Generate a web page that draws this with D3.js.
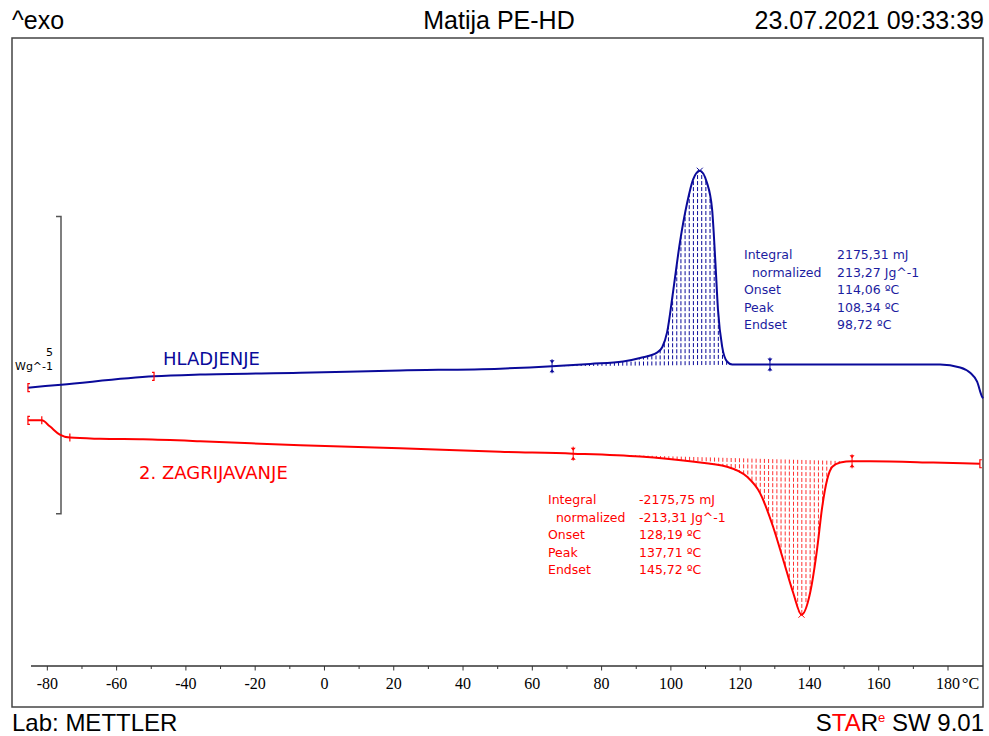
<!DOCTYPE html>
<html>
<head>
<meta charset="utf-8">
<script src="https://cdn.jsdelivr.net/npm/d3@7"></script>
<style>
  body { margin: 0; background: #fff; }
  svg { display: block; }
  .pre { white-space: pre; }
</style>
</head>
<body>
<div id="dsc_canvas"></div>
<script>
const width = 989;
const height = 736;

// cooling run (HLADJENJE): temperature (°C) and heat flow (W/g)
const coolTemp = [-85.6, -76.0, -49.2, -35.9, -7.0, 21.8, 50.7, 65.7, 76.7, 86.2, 91.1, 96.0, 97.5, 98.9,
  100.6, 102.6, 104.7, 106.4, 108.34, 110.4, 111.9, 112.8, 113.6, 114.8, 116.2, 117.7, 128.6, 160.4,
  177.7, 183.5, 186.4, 188.4, 189.8, 190.1];
const coolFlow = [0.20, 0.25, 0.39, 0.42, 0.45, 0.49, 0.52, 0.56, 0.60, 0.64, 0.70, 0.79, 0.88, 1.13,
  1.80, 2.64, 3.31, 3.70, 3.85, 3.65, 3.20, 2.36, 1.51, 0.89, 0.64, 0.59, 0.59, 0.59,
  0.59, 0.54, 0.45, 0.30, 0.05, 0.02];

// second heating run (2. ZAGRIJAVANJE)
const heatTemp = [-85.6, -81.6, -79.3, -76.4, -73.5, -64.8, -52.4, -35.9, -7.0, 21.8, 50.7, 71.8, 91.1,
  105.5, 116.2, 122.0, 125.7, 129.5, 132.4, 135.3, 137.71, 140.2, 142.2, 143.7, 145.1, 146.6, 148.9,
  152.3, 157.5, 175.7, 189.2];
const heatFlow = [-0.35, -0.35, -0.45, -0.59, -0.64, -0.66, -0.67, -0.70, -0.77, -0.82, -0.88, -0.91, -0.96,
  -1.04, -1.13, -1.30, -1.57, -2.14, -2.69, -3.25, -3.62, -3.25, -2.52, -1.80, -1.35, -1.13, -1.06,
  -1.04, -1.04, -1.06, -1.08];

const xTickValues = [-80, -60, -40, -20, 0, 20, 40, 60, 80, 100, 120, 140, 160, 180];
const coolLimits = [65.7, 128.6];
const heatLimits = [71.8, 152.3];

const coolNames = ['Integral', '  normalized', 'Onset', 'Peak', 'Endset'];
const coolValues = ['2175,31 mJ', '213,27 Jg^-1', '114,06 ºC', '108,34 ºC', '98,72 ºC'];
const heatNames = ['Integral', '  normalized', 'Onset', 'Peak', 'Endset'];
const heatValues = ['-2175,75 mJ', '-213,31 Jg^-1', '128,19 ºC', '137,71 ºC', '145,72 ºC'];

const blue = '#0a0a9a';
const red = '#ff0000';

const svg = d3.select('#dsc_canvas').append('svg')
  .attr('width', width).attr('height', height);

const x = d3.scaleLinear().domain([-90.2, 190.1]).range([12, 983]);
const y = d3.scaleLinear().domain([-4.5, 6.1]).range([667, 37]);

// frame
svg.append('rect').attr('x', 12).attr('y', 38).attr('width', 971).attr('height', 669)
  .attr('fill', 'none').attr('stroke', '#444').attr('stroke-width', 1.5);

// header / footer
const hdr = svg.append('g').attr('font-family', 'Liberation Sans, Arial, sans-serif')
  .attr('font-size', 25).attr('fill', '#000');
hdr.append('text').attr('x', 12).attr('y', 29).text('^exo');
hdr.append('text').attr('x', 499).attr('y', 29).attr('text-anchor', 'middle').text('Matija PE-HD');
hdr.append('text').attr('x', 984).attr('y', 29).attr('text-anchor', 'end').text('23.07.2021 09:33:39');
hdr.append('text').attr('x', 12).attr('y', 731).attr('font-size', 24).text('Lab: METTLER');
const star = hdr.append('text').attr('x', 984).attr('y', 731).attr('text-anchor', 'end').attr('font-size', 24);
star.append('tspan').text('S');
star.append('tspan').attr('fill', red).text('TA');
star.append('tspan').text('R');
star.append('tspan').attr('fill', red).attr('font-size', 13).attr('dy', -9).text('e');
star.append('tspan').attr('dy', 9).text(' SW 9.01');

// x axis
const axisY = 666;
svg.append('line').attr('x1', 31).attr('x2', 983).attr('y1', axisY).attr('y2', axisY)
  .attr('stroke', '#333').attr('stroke-width', 1.5);
const minor = d3.range(-80, 190, 10);
svg.append('g').selectAll('line').data(minor).join('line')
  .attr('x1', d => x(d)).attr('x2', d => x(d))
  .attr('y1', axisY).attr('y2', d => axisY + (d % 20 === 0 ? 4.5 : 3))
  .attr('stroke', '#333');
svg.append('g').attr('font-family', 'Liberation Serif, Times New Roman, serif').attr('font-size', 16)
  .attr('text-anchor', 'middle')
  .selectAll('text').data(xTickValues).join('text')
  .attr('x', d => x(d)).attr('y', 689).text(d => d);
svg.append('text').attr('font-family', 'Liberation Serif, Times New Roman, serif').attr('font-size', 16)
  .attr('x', 962).attr('y', 689).text('°C');

// scale bar (5 W/g)
const barX = 61;
svg.append('path')
  .attr('d', `M${barX - 5},${y(3.08)}H${barX}V${y(3.08) + 5 * (y(0) - y(1))}H${barX - 5}`)
  .attr('fill', 'none').attr('stroke', '#555').attr('stroke-width', 1.5);
svg.append('text').attr('x', 46).attr('y', 356).attr('font-family', 'DejaVu Sans, sans-serif')
  .attr('font-size', 11).text('5');
svg.append('text').attr('x', 15).attr('y', 370).attr('font-family', 'DejaVu Sans, sans-serif')
  .attr('font-size', 11).text('Wg^-1');

const line = d3.line().x(d => x(d[0])).y(d => y(d[1])).curve(d3.curveMonotoneX);
const coolData = d3.zip(coolTemp, coolFlow);
const heatData = d3.zip(heatTemp, heatFlow);

function flowAt(temps, flows, t) {
  const i = d3.bisectLeft(temps, t);
  if (i <= 0) return flows[0];
  if (i >= temps.length) return flows[flows.length - 1];
  const k = (t - temps[i - 1]) / (temps[i] - temps[i - 1]);
  return flows[i - 1] + k * (flows[i] - flows[i - 1]);
}

function hatch(temps, flows, limits, color, sign) {
  const b0 = flowAt(temps, flows, limits[0]);
  const b1 = flowAt(temps, flows, limits[1]);
  const base = t => b0 + (t - limits[0]) / (limits[1] - limits[0]) * (b1 - b0);
  const steps = d3.range(limits[0] + 1.2, limits[1], 1.2)
    .filter(t => sign * (flowAt(temps, flows, t) - base(t)) > 0.01);
  svg.append('g').selectAll('line').data(steps).join('line')
    .attr('x1', t => x(t)).attr('x2', t => x(t))
    .attr('y1', t => y(base(t)))
    .attr('y2', t => y(flowAt(temps, flows, t)))
    .attr('stroke', color).attr('stroke-width', 1).attr('stroke-dasharray', '4,2');
}
hatch(coolTemp, coolFlow, coolLimits, blue, 1);
hatch(heatTemp, heatFlow, heatLimits, '#ff3030', -1);

svg.append('path').datum(coolData).attr('d', line)
  .attr('fill', 'none').attr('stroke', blue).attr('stroke-width', 2);
svg.append('path').datum(heatData).attr('d', line)
  .attr('fill', 'none').attr('stroke', red).attr('stroke-width', 2);

// integration limit markers
function limitMark(t, v, color) {
  const px = x(t), py = y(v);
  const g = svg.append('g').attr('stroke', color).attr('fill', color);
  g.append('line').attr('x1', px).attr('x2', px).attr('y1', py - 7).attr('y2', py + 7);
  g.append('path').attr('d', `M${px},${py - 3}l2.5,-3h-5z M${px},${py + 3}l2.5,3h-5z`).attr('stroke', 'none');
}
coolLimits.forEach(t => limitMark(t, flowAt(coolTemp, coolFlow, t), blue));
heatLimits.forEach(t => limitMark(t, flowAt(heatTemp, heatFlow, t), red));

// bracket markers (red)
function bracket(t, v, dir) {
  const px = x(t), py = y(v);
  svg.append('path').attr('d', `M${px + 2 * dir},${py - 4}H${px}V${py + 4}H${px + 2 * dir}`)
    .attr('fill', 'none').attr('stroke', red).attr('stroke-width', 1.2);
}
bracket(coolTemp[0], coolFlow[0], 1);
bracket(-49.2, flowAt(coolTemp, coolFlow, -49.2), -1);
bracket(heatTemp[0], heatFlow[0], 1);
bracket(heatTemp[heatTemp.length - 1], heatFlow[heatFlow.length - 1], 1);
[-81.6, -73.5].forEach(t => {
  const px = x(t), py = y(flowAt(heatTemp, heatFlow, t));
  svg.append('line').attr('x1', px).attr('x2', px).attr('y1', py - 4).attr('y2', py + 4)
    .attr('stroke', red).attr('stroke-width', 1.2);
});

// peak crosses
function cross(t, v, color) {
  const px = x(t), py = y(v);
  svg.append('path').attr('d', `M${px - 3},${py - 3}L${px + 3},${py + 3}M${px - 3},${py + 3}L${px + 3},${py - 3}`)
    .attr('stroke', color).attr('stroke-width', 1);
}
cross(108.34, 3.85, blue);
cross(137.71, -3.62, red);

// curve labels
svg.append('text').attr('x', 163).attr('y', 365).attr('fill', blue)
  .attr('font-family', 'DejaVu Sans, sans-serif').attr('font-size', 18).text('HLADJENJE');
svg.append('text').attr('x', 139).attr('y', 479).attr('fill', red)
  .attr('font-family', 'DejaVu Sans, sans-serif').attr('font-size', 18).text('2. ZAGRIJAVANJE');

// evaluation tables
function table(names, values, x0, x1, y0, color) {
  const g = svg.append('g').attr('fill', color).attr('font-family', 'DejaVu Sans, sans-serif')
    .attr('font-size', 12.5);
  g.selectAll('.nm').data(names).join('text').attr('class', 'nm pre')
    .attr('x', x0).attr('y', (d, i) => y0 + i * 17.5).text(d => d);
  g.selectAll('.vl').data(values).join('text').attr('class', 'vl pre')
    .attr('x', x1).attr('y', (d, i) => y0 + i * 17.5).text(d => d);
}
table(coolNames, coolValues, 744, 837, 259, '#1c1ca0');
table(heatNames, heatValues, 548, 639, 504, red);
</script>
</body>
</html>
